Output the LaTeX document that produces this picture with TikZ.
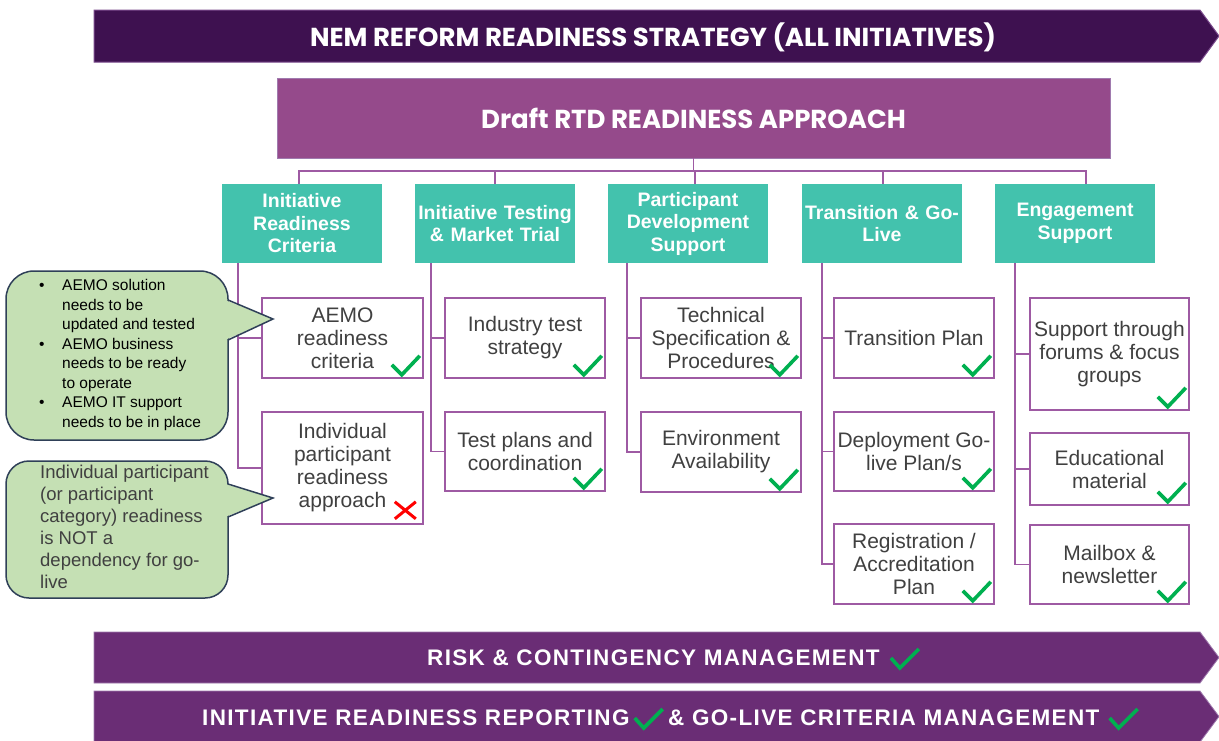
\documentclass[tikz,border=0pt]{standalone}
\usepackage{fontspec}
\setmainfont{Liberation Sans}
\newfontfamily\gothic{Poppins}
\newfontfamily\bannerfont{Liberation Sans}[LetterSpace=6]
\usetikzlibrary{calc}
\definecolor{topPurple}{HTML}{3E1150}
\definecolor{topEdge}{HTML}{7A4A8C}
\definecolor{draftPurple}{HTML}{954A8B}
\definecolor{barPurple}{HTML}{6A2D75}
\definecolor{barEdge}{HTML}{A07AAE}
\definecolor{teal}{HTML}{43C2AD}
\definecolor{linePurple}{HTML}{9E5AA3}
\definecolor{calloutFill}{HTML}{C5E0B4}
\definecolor{calloutEdge}{HTML}{2F4058}
\definecolor{tickGreen}{HTML}{00B050}
\definecolor{crossRed}{HTML}{FF0000}
\definecolor{bodyGray}{HTML}{404040}
\newcommand\mytick[1]{\draw[tickstyle] ($(#1.south east)+(-32,-14)$) -- ++(10,10) -- ++(18,-19);}
\begin{document}
\begin{tikzpicture}[x=1pt,y=-1pt,
  tickstyle/.style={draw=tickGreen,line width=3.6pt,line cap=butt,line join=miter},
  crossstyle/.style={draw=crossRed,line width=3pt},
  conn/.style={draw=linePurple,line width=1.6pt},
  header/.style={fill=teal,draw=none,minimum width=160pt,minimum height=79pt,inner sep=0pt,
     text width=158pt,align=center,text=white,font=\fontsize{19.5}{22.5}\selectfont\bfseries},
  cbox/.style={draw=linePurple,line width=1.6pt,fill=white,inner sep=0pt,align=center,
     text=bodyGray,font=\fontsize{21}{23}\selectfont},
  bannertext/.style={text=white,inner sep=0pt,font=\bannerfont\fontsize{22.5}{24}\selectfont\bfseries},
  callout/.style={fill=calloutFill,draw=calloutEdge,line width=1.5pt}
]
\clip (0,0) rectangle (1219,740);
\fill[white] (0,0) rectangle (1219,740);

% top banner
\path[fill=topPurple,draw=topEdge,line width=1pt] (94,10) -- (1200,10) -- (1219,36) -- (1200,62) -- (94,62) -- cycle;
\node[text=white,inner sep=0pt,font=\gothic\fontsize{26}{28}\selectfont\bfseries] (nem) at (653,37) {NEM REFORM READINESS STRATEGY (ALL INITIATIVES)};

% draft box
\node[fill=draftPurple,draw=barEdge,line width=0.8pt,minimum width=833pt,minimum height=80pt,inner sep=0pt,
  text=white,font=\gothic\fontsize{26}{28}\selectfont\bfseries] (draft) at (693.5,118) {Draft RTD READINESS APPROACH};

% headers
\node[header] (h1) at (302,223.5) {Initiative\\Readiness\\Criteria};
\node[header] (h2) at (495,223.5) {Initiative Testing\\\& Market Trial};
\node[header] (h3) at (688,223.5) {Participant\\Development\\Support};
\node[header] (h4) at (882,223.5) {Transition \& Go-\\Live};
\node[header] (h5) at (1075,223.5) {Engagement\\Support};

% bus
\draw[conn] (draft.south) -- ++(0,13);
\draw[conn] ($(h1.north)+(-3,0)$) |- ($(h5.north)+(11,-13)$) -- ($(h5.north)+(11,0)$);
\draw[conn] (h2.north) -- ++(0,-13);
\draw[conn] ($(h3.north)+(7,0)$) -- ++(0,-13);
\draw[conn] ($(h4.north)+(1,0)$) -- ++(0,-13);

% column 1
\node[cbox,minimum width=161pt,minimum height=80pt] (aemo) at (342.5,338) {AEMO\\readiness\\criteria};
\node[cbox,minimum width=161pt,minimum height=112pt] (indiv) at (342.5,468) {Individual\\participant\\readiness\\approach};
% column 2
\node[cbox,minimum width=160pt,minimum height=80pt] (industry) at (525,338) {Industry test\\strategy};
\node[cbox,minimum width=160pt,minimum height=79pt] (testplans) at (525,451.5) {Test plans and\\coordination};
% column 3
\node[cbox,minimum width=160pt,minimum height=80pt] (techspec) at (721,338) {Technical\\Specification \&\\Procedures};
\node[cbox,minimum width=160pt,minimum height=80pt] (environ) at (721,452) {Environment\\Availability};
% column 4
\node[cbox,minimum width=160pt,minimum height=80pt] (transplan) at (914,338) {Transition Plan};
\node[cbox,minimum width=160pt,minimum height=79pt] (deploy) at (914,451.5) {Deployment Go-\\live Plan/s};
\node[cbox,minimum width=160pt,minimum height=80pt] (regist) at (914,564) {Registration /\\Accreditation\\Plan};
% column 5
\node[cbox,minimum width=159pt,minimum height=112pt] (forums) at (1109.5,354) {Support through\\forums \& focus\\groups};
\node[cbox,minimum width=159pt,minimum height=72pt] (educ) at (1109.5,469) {Educational\\material};
\node[cbox,minimum width=159pt,minimum height=79pt] (mailbox) at (1109.5,564.5) {Mailbox \&\\newsletter};

% column connectors
\draw[conn] ($(h1.south west)+(16,0)$) |- (indiv.west);
\draw[conn] ($(h1.south west)+(16,0)$) |- (aemo.west);
\draw[conn] ($(h2.south west)+(16,0)$) |- (testplans.west);
\draw[conn] ($(h2.south west)+(16,0)$) |- (industry.west);
\draw[conn] ($(h3.south west)+(19,0)$) |- (environ.west);
\draw[conn] ($(h3.south west)+(19,0)$) |- (techspec.west);
\draw[conn] ($(h4.south west)+(20,0)$) |- (regist.west);
\draw[conn] ($(h4.south west)+(20,0)$) |- (deploy.west);
\draw[conn] ($(h4.south west)+(20,0)$) |- (transplan.west);
\draw[conn] ($(h5.south west)+(20,0)$) |- (mailbox.west);
\draw[conn] ($(h5.south west)+(20,0)$) |- (educ.west);
\draw[conn] ($(h5.south west)+(20,0)$) |- (forums.west);

% ticks
\mytick{aemo}
\mytick{industry}
\mytick{testplans}
\mytick{techspec}
\mytick{environ}
\mytick{transplan}
\mytick{deploy}
\mytick{regist}
\mytick{forums}
\mytick{educ}
\mytick{mailbox}
\draw[crossstyle] ($(indiv.south east)+(-29,-23)$) -- ++(21,17);
\draw[crossstyle] ($(indiv.south east)+(-29,-6)$) -- ++(21,-17);

% callout 1
\draw[callout,rounded corners=28pt] (6,271) rectangle (228,440);
\fill[calloutFill] (225,300) -- (273,319) -- (225,340) -- cycle;
\draw[calloutEdge,line width=1.5pt,line join=miter] (228,300) -- (273,319) -- (228,340);
\node[anchor=north west,inner sep=0pt,align=left,text=black,font=\fontsize{15.5}{19.5}\selectfont] (c1text) at (39,279.5)
 {\makebox[23pt][l]{•}AEMO solution\\
  \hspace*{23pt}needs to be\\
  \hspace*{23pt}updated and tested\\
  \makebox[23pt][l]{•}AEMO business\\
  \hspace*{23pt}needs to be ready\\
  \hspace*{23pt}to operate\\
  \makebox[23pt][l]{•}AEMO IT support\\
  \hspace*{23pt}needs to be in place};

% callout 2
\draw[callout,rounded corners=23pt] (6,461) rectangle (228,598);
\fill[calloutFill] (225,484) -- (273,498) -- (225,517) -- cycle;
\draw[calloutEdge,line width=1.5pt,line join=miter] (228,484) -- (273,498) -- (228,517);
\node[anchor=north west,inner sep=0pt,align=left,text=bodyGray,font=\fontsize{18.5}{22}\selectfont] (c2text) at (40,465)
 {Individual participant\\(or participant\\category) readiness\\is NOT a\\dependency for go-\\live};

% bottom banners
\path[fill=barPurple,draw=barEdge,line width=0.8pt] (94,632) -- (1200,632) -- (1219,657.5) -- (1200,683) -- (94,683) -- cycle;
\node[bannertext,anchor=west] (risk) at (427,658) {RISK \& CONTINGENCY MANAGEMENT};
\draw[tickstyle] ($(risk.east)+(11,0)$) -- ++(9,10) -- ++(19,-19);

\path[fill=barPurple,draw=barEdge,line width=0.8pt] (94,691) -- (1200,691) -- (1219,716.5) -- (1200,742) -- (94,742) -- cycle;
\node[bannertext,anchor=west] (rep1) at (202,718) {INITIATIVE READINESS REPORTING};
\draw[tickstyle] ($(rep1.east)+(5,0)$) -- ++(9,10) -- ++(19,-19);
\node[bannertext,anchor=west] (rep2) at (668,718) {\& GO-LIVE CRITERIA MANAGEMENT};
\draw[tickstyle] ($(rep2.east)+(10,0)$) -- ++(9,10) -- ++(19,-19);
\end{tikzpicture}
\end{document}
